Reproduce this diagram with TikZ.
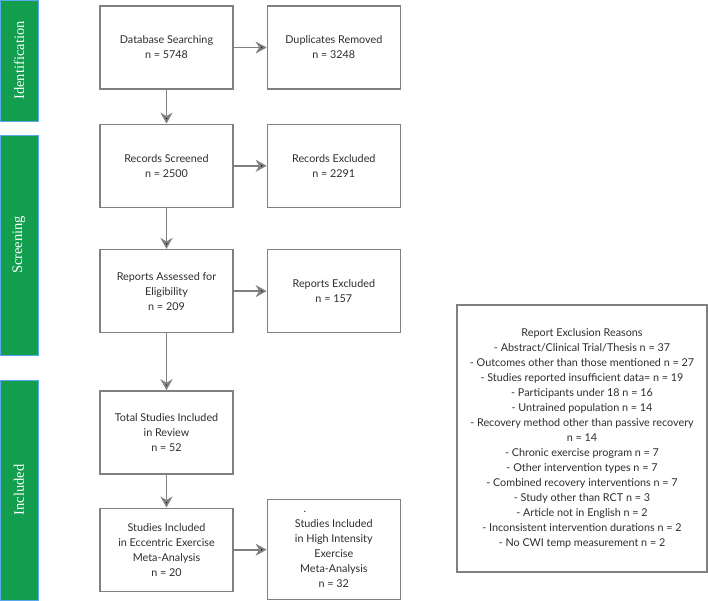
\documentclass[tikz,border=0pt]{standalone}
\usepackage{fontspec}
\setmainfont{Lato}
\newfontfamily\sidefont{Liberation Serif}
\usepackage{tikz}
\usetikzlibrary{positioning,arrows.meta}
\definecolor{stagegreen}{RGB}{18,158,78}
\definecolor{stageedge}{RGB}{90,170,235}
\definecolor{boxgray}{RGB}{128,128,128}
\definecolor{txtgray}{RGB}{45,45,45}
\tikzset{
  box/.style={draw=boxgray,line width=1.3pt,minimum width=133pt,minimum height=83pt,
    align=center,text=txtgray,inner sep=2pt,font=\fontsize{10.8}{15}\selectfont},
  tallbox/.style={box,minimum height=100pt},
  reasonbox/.style={box,minimum width=250pt,minimum height=267pt},
  flow/.style={draw=boxgray,line width=1.8pt,-{Stealth[length=11pt,width=12pt,inset=3.5pt]}},
  stage/.style={rotate=90,fill=stagegreen,draw=stageedge,line width=0.8pt,
    minimum height=38pt,inner sep=0pt,text=white,font=\sidefont\fontsize{14.5}{14.5}\selectfont}
}
\begin{document}
\begin{tikzpicture}[x=1pt,y=-1pt]
  \useasboundingbox (0,0) rectangle (708,601);

  % stages
  \node [stage,minimum width=121pt] (ident) at (19,60.5) {Identification};
  \node [stage,minimum width=220pt] (screen) at (19,245) {Screening};
  \node [stage,minimum width=220pt] (incl) at (19,490) {Included};

  % main column
  \node [box] (search) at (166.5,47.5) {Database Searching\\n = 5748};
  \node [box,right=33pt of search] (dupes) {Duplicates Removed\\n = 3248};
  \node [box,below=34pt of search] (screened) {Records Screened\\n = 2500};
  \node [box,right=33pt of screened] (recexcl) {Records Excluded\\n = 2291};
  \node [box,below=41pt of screened] (assessed) {Reports Assessed for\\Eligibility\\n = 209};
  \node [box,right=33pt of assessed] (repexcl) {Reports Excluded\\n = 157};
  \node [box,below=57pt of assessed] (total) {Total Studies Included\\in Review\\n = 52};
  \node [box,below=33pt of total] (eccentric) {Studies Included\\in Eccentric Exercise\\Meta-Analysis\\n = 20};
  \node [tallbox,right=33pt of eccentric] (highint) {.\hspace*{58pt}\\Studies Included\\in High Intensity\\Exercise\\Meta-Analysis\\n = 32};

  % reasons
  \node [reasonbox] (reasons) at (582,438.5) {Report Exclusion Reasons\\
    - Abstract/Clinical Trial/Thesis n = 37\\
    - Outcomes other than those mentioned n = 27\\
    - Studies reported insufficient data= n = 19\\
    - Participants under 18 n = 16\\
    - Untrained population n = 14\\
    - Recovery method other than passive recovery\\
    n = 14\\
    - Chronic exercise program n = 7\\
    - Other intervention types n = 7\\
    - Combined recovery interventions n = 7\\
    - Study other than RCT n = 3\\
    - Article not in English n = 2\\
    - Inconsistent intervention durations n = 2\\
    - No CWI temp measurement n = 2};

  \path [flow] (search) edge (dupes)
               (search) edge (screened)
               (screened) edge (recexcl)
               (screened) edge (assessed)
               (assessed) edge (repexcl)
               (assessed) edge (total)
               (total) edge (eccentric)
               (eccentric) edge (highint);
\end{tikzpicture}
\end{document}
